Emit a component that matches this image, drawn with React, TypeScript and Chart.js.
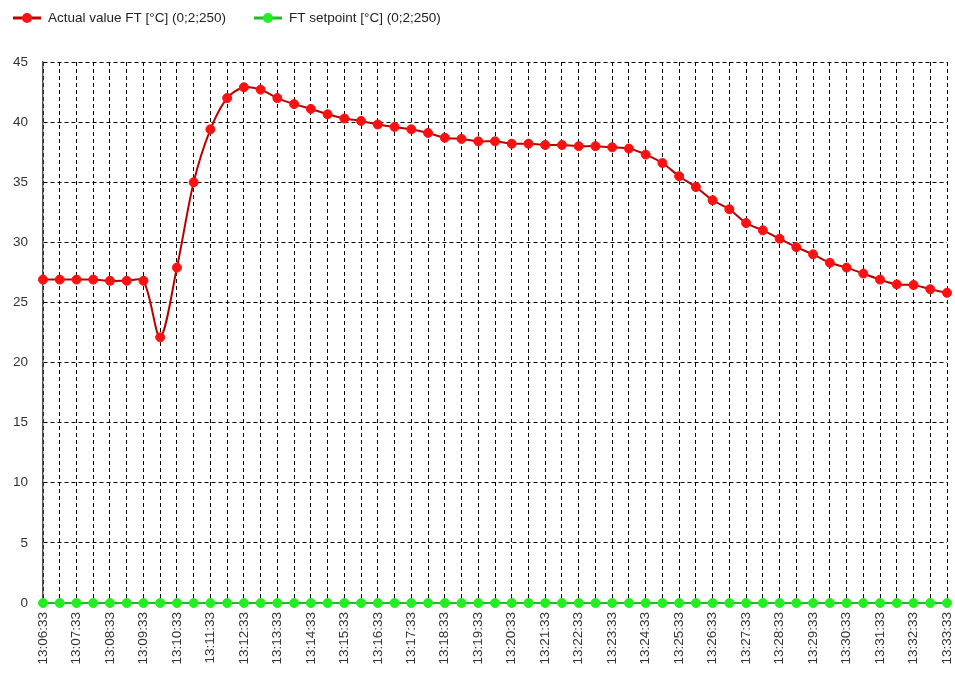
import React, { useEffect, useRef } from 'react';
import { Chart, registerables } from 'chart.js';

Chart.register(...registerables);

const categories = [
  '13:06:33', '13:07:03', '13:07:33', '13:08:03', '13:08:33', '13:09:03', '13:09:33', '13:10:03',
  '13:10:33', '13:11:03', '13:11:33', '13:12:03', '13:12:33', '13:13:03', '13:13:33', '13:14:03',
  '13:14:33', '13:15:03', '13:15:33', '13:16:03', '13:16:33', '13:17:03', '13:17:33', '13:18:03',
  '13:18:33', '13:19:03', '13:19:33', '13:20:03', '13:20:33', '13:21:03', '13:21:33', '13:22:03',
  '13:22:33', '13:23:03', '13:23:33', '13:24:03', '13:24:33', '13:25:03', '13:25:33', '13:26:03',
  '13:26:33', '13:27:03', '13:27:33', '13:28:03', '13:28:33', '13:29:03', '13:29:33', '13:30:03',
  '13:30:33', '13:31:03', '13:31:33', '13:32:03', '13:32:33', '13:33:03', '13:33:33',
];

const actualValueFT = [
  26.9, 26.9, 26.9, 26.9, 26.8, 26.8, 26.8, 22.1, 27.9, 35.0,
  39.4, 42.0, 42.9, 42.7, 42.0, 41.5, 41.1, 40.65, 40.3, 40.1,
  39.8, 39.6, 39.4, 39.1, 38.7, 38.6, 38.4, 38.4, 38.2, 38.2,
  38.1, 38.1, 38.0, 38.0, 37.9, 37.8, 37.3, 36.6, 35.5, 34.6,
  33.5, 32.75, 31.6, 31.0, 30.3, 29.6, 29.0, 28.3, 27.9, 27.4,
  26.9, 26.5, 26.45, 26.1, 25.8,
];

const ftSetpoint = [
  0, 0, 0, 0, 0, 0, 0, 0, 0, 0,
  0, 0, 0, 0, 0, 0, 0, 0, 0, 0,
  0, 0, 0, 0, 0, 0, 0, 0, 0, 0,
  0, 0, 0, 0, 0, 0, 0, 0, 0, 0,
  0, 0, 0, 0, 0, 0, 0, 0, 0, 0,
  0, 0, 0, 0, 0,
];

const seriesNames = ['Actual value FT [°C] (0;2;250)', 'FT setpoint [°C] (0;2;250)'];
const yMin = 0;
const yMax = 45;
const yStep = 5;

const FONT = '"Liberation Sans", Arial, sans-serif';

const topLegend = {
  id: 'topLegend',
  afterDraw(chart: any) {
    const ctx = chart.ctx;
    ctx.save();
    ctx.font = `13.5px ${FONT}`;
    ctx.textBaseline = 'middle';
    ctx.textAlign = 'left';
    let x = 13;
    const y = 18;
    chart.data.datasets.forEach((ds: any) => {
      ctx.strokeStyle = ds.borderColor;
      ctx.lineWidth = 3;
      ctx.beginPath();
      ctx.moveTo(x, y);
      ctx.lineTo(x + 28, y);
      ctx.stroke();
      ctx.fillStyle = ds.pointBackgroundColor;
      ctx.beginPath();
      ctx.arc(x + 14, y, 5, 0, Math.PI * 2);
      ctx.fill();
      ctx.fillStyle = '#222';
      ctx.fillText(ds.label, x + 35, y);
      x += 35 + ctx.measureText(ds.label).width + 28;
    });
    ctx.restore();
  },
};

export default function App() {
  const ref = useRef<HTMLCanvasElement | null>(null);

  useEffect(() => {
    if (!ref.current) return;
    const chart = new Chart(ref.current, {
      type: 'line',
      data: {
        labels: categories,
        datasets: [
          {
            label: seriesNames[0],
            data: actualValueFT,
            borderColor: '#b80000',
            backgroundColor: '#ff0000',
            pointBackgroundColor: '#ff1010',
            pointBorderColor: '#ff1010',
            pointRadius: 4.5,
            pointBorderWidth: 1,
            borderWidth: 2,
            tension: 0.3,
            clip: false,
          },
          {
            label: seriesNames[1],
            data: ftSetpoint,
            borderColor: '#22bb22',
            backgroundColor: '#22ee22',
            pointBackgroundColor: '#22ee22',
            pointBorderColor: '#22ee22',
            pointRadius: 4.5,
            pointBorderWidth: 1,
            borderWidth: 2,
            tension: 0,
            clip: false,
          },
        ],
      } as any,
      options: {
        animation: false,
        responsive: false,
        maintainAspectRatio: false,
        layout: { padding: { top: 62, right: 8, bottom: 0, left: 0 } },
        plugins: {
          legend: { display: false },
          tooltip: { enabled: false },
          title: { display: false },
        },
        scales: {
          x: {
            type: 'category',
            offset: false,
            afterFit: (scale: any) => {
              scale.height = 72;
              scale.paddingRight = 0;
              scale.paddingLeft = 0;
            },
            grid: {
              color: '#000',
              lineWidth: 1,
              drawTicks: false,
            },
            border: { display: true, color: '#000', dash: [4, 3] },
            ticks: {
              autoSkip: false,
              maxRotation: 90,
              minRotation: 90,
              padding: 9,
              color: '#333',
              font: { family: FONT, size: 13.5 },
              callback: (_v: any, i: number) => (i % 2 === 0 ? categories[i] : ''),
            },
          },
          y: {
            min: yMin,
            max: yMax,
            afterFit: (scale: any) => {
              scale.width = 43;
            },
            grid: {
              color: '#000',
              lineWidth: 1,
              drawTicks: false,
            },
            border: { display: true, color: '#555', width: 1.5, dash: [4, 3] },
            ticks: {
              stepSize: yStep,
              padding: 15,
              color: '#333',
              font: { family: FONT, size: 13.5 },
            },
          },
        },
      } as any,
      plugins: [topLegend],
    });
    return () => chart.destroy();
  }, []);

  return (
    <div style={{ position: 'absolute', left: 0, top: 0, width: 955, height: 675, background: '#fff' }}>
      <canvas ref={ref} width={955} height={675} />
    </div>
  );
}
